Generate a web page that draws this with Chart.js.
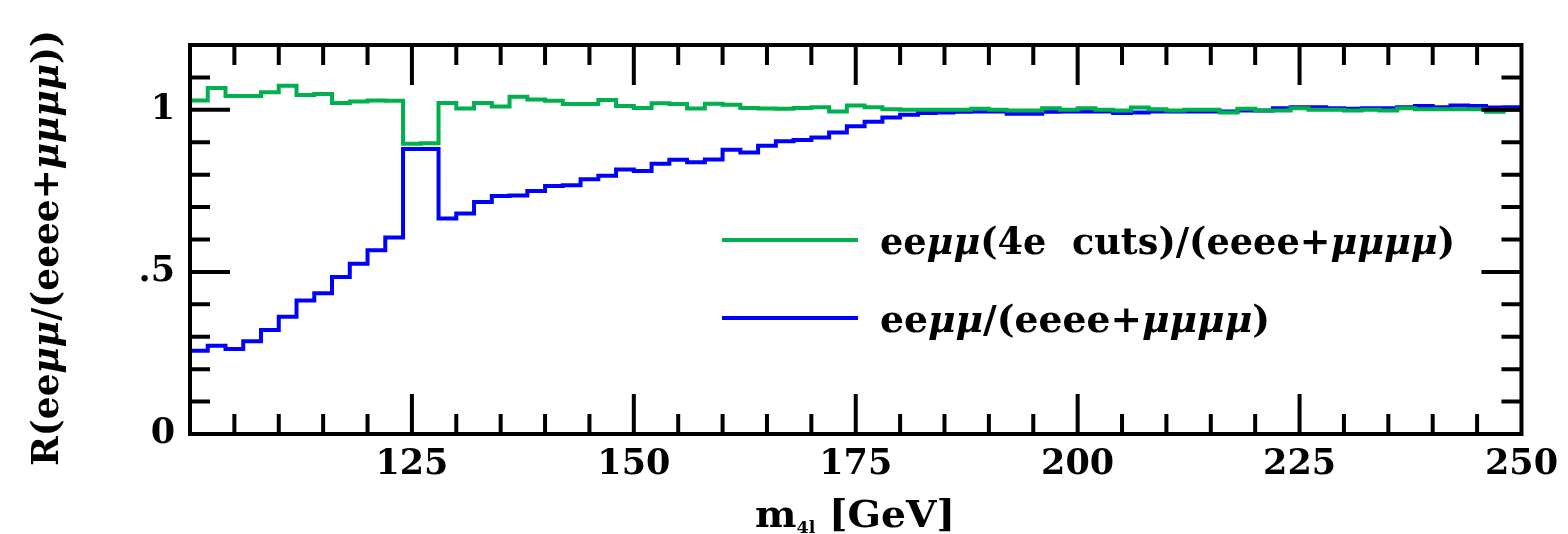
<!DOCTYPE html>
<html lang="en">

<head>
    <meta charset="UTF-8">
    <title>R(eeμμ/(eeee+μμμμ))</title>
    <style>
        html, body { margin: 0; padding: 0; background: #fff; }
        #wrap { width: 1568px; height: 534px; }
    </style>
</head>

<body>
    <div id="wrap"><canvas id="myChart"></canvas></div>

    <script src="https://cdn.jsdelivr.net/npm/chart.js"></script>
    <script>
        // lower edges of the 2 GeV bins in m4l
        const binEdges = [
            100, 102, 104, 106, 108, 110, 112, 114, 116, 118,
            120, 122, 124, 126, 128, 130, 132, 134, 136, 138,
            140, 142, 144, 146, 148, 150, 152, 154, 156, 158,
            160, 162, 164, 166, 168, 170, 172, 174, 176, 178,
            180, 182, 184, 186, 188, 190, 192, 194, 196, 198,
            200, 202, 204, 206, 208, 210, 212, 214, 216, 218,
            220, 222, 224, 226, 228, 230, 232, 234, 236, 238,
            240, 242, 244, 246, 248
        ];
        const lastEdge = 250;

        // eemumu (4e cuts) / (eeee + mumumumu)
        const ratioCuts = [
            1.029, 1.067, 1.043, 1.043, 1.054, 1.074, 1.046, 1.049, 1.021, 1.026,
            1.029, 1.028, 0.895, 0.897, 1.021, 1.004, 1.021, 1.010, 1.040, 1.032,
            1.028, 1.018, 1.018, 1.030, 1.012, 1.006, 1.020, 1.018, 1.004, 1.019,
            1.016, 1.006, 1.004, 1.003, 1.006, 1.008, 0.995, 1.013, 1.008, 1.002,
            1.000, 1.000, 1.000, 1.000, 1.003, 1.000, 0.998, 0.998, 1.005, 1.000,
            1.005, 1.000, 0.998, 1.007, 1.002, 0.998, 1.000, 1.000, 0.992, 1.003,
            0.998, 0.998, 1.005, 1.000, 1.000, 0.998, 1.000, 0.998, 1.005, 1.002,
            1.002, 1.002, 1.002, 0.994, 1.000
        ];

        // eemumu / (eeee + mumumumu)
        const ratioPlain = [
            0.257, 0.272, 0.262, 0.286, 0.321, 0.362, 0.412, 0.434, 0.484, 0.525,
            0.567, 0.606, 0.879, 0.879, 0.665, 0.680, 0.716, 0.734, 0.736, 0.750,
            0.765, 0.767, 0.786, 0.797, 0.816, 0.811, 0.834, 0.846, 0.838, 0.847,
            0.877, 0.868, 0.889, 0.903, 0.907, 0.915, 0.930, 0.949, 0.963, 0.976,
            0.985, 0.990, 0.992, 0.994, 0.995, 0.995, 0.988, 0.988, 0.994, 0.995,
            0.995, 0.995, 0.990, 0.992, 0.995, 0.995, 0.995, 0.995, 0.995, 0.998,
            0.998, 1.005, 1.008, 1.008, 1.005, 1.003, 1.005, 1.005, 1.008, 1.012,
            1.008, 1.013, 1.012, 1.007, 1.008
        ];

        // label pieces: [text, italic]
        const legendCuts = [['ee', false], ['μμ', true], ['(4e  cuts)/(eeee+', false], ['μμμμ', true], [')', false]];
        const legendPlain = [['ee', false], ['μμ', true], ['/(eeee+', false], ['μμμμ', true], [')', false]];
        const yTitle = [['R(ee', false], ['μμ', true], ['/(eeee+', false], ['μμμμ', true], ['))', false]];

        const GREEN = '#00b04f';
        const BLUE = '#0000ff';
        const FONT = '"DejaVu Serif", "Liberation Serif", serif';

        // histogram points: each bin holds its value until the next edge
        function toSteps(values) {
            const pts = binEdges.map((e, i) => ({ x: e, y: values[i] }));
            pts.push({ x: lastEdge, y: values[values.length - 1] });
            return pts;
        }

        // draws text pieces (upright/italic, optional size & shift) squeezed to a given width
        function drawPieces(ctx, pieces, x, y, width, size) {
            const fontOf = (p) => `${p[1] ? 'italic ' : ''}bold ${p[2] || size}px ${FONT}`;
            let total = 0;
            pieces.forEach(p => { ctx.font = fontOf(p); total += ctx.measureText(p[0]).width; });
            ctx.save();
            ctx.translate(x, y);
            ctx.scale(width / total, 1);
            ctx.textBaseline = 'alphabetic';
            ctx.textAlign = 'left';
            ctx.fillStyle = '#000';
            let cx = 0;
            pieces.forEach(p => {
                ctx.font = fontOf(p);
                ctx.fillText(p[0], cx, p[3] || 0);
                cx += ctx.measureText(p[0]).width;
            });
            ctx.restore();
        }

        const frameAndDecor = {
            id: 'frameAndDecor',
            afterDatasetsDraw(chart) {
                const { ctx, chartArea: a, scales: { x, y } } = chart;
                ctx.save();
                ctx.strokeStyle = '#000';
                ctx.lineWidth = 4;
                ctx.beginPath();
                // inward ticks on all four sides
                x.ticks.forEach(t => {
                    const px = x.getPixelForValue(t.value);
                    if (px <= a.left + 2 || px >= a.right - 2) return;
                    const len = t.value % 25 === 0 ? 40 : 20;
                    ctx.moveTo(px, a.bottom); ctx.lineTo(px, a.bottom - len);
                    ctx.moveTo(px, a.top); ctx.lineTo(px, a.top + len);
                });
                y.ticks.forEach(t => {
                    const py = y.getPixelForValue(t.value);
                    if (py <= a.top + 2 || py >= a.bottom - 2) return;
                    const major = Math.abs(t.value * 2 - Math.round(t.value * 2)) < 1e-6;
                    const len = major ? 40 : 20;
                    ctx.moveTo(a.left, py); ctx.lineTo(a.left + len, py);
                    ctx.moveTo(a.right, py); ctx.lineTo(a.right - len, py);
                });
                ctx.stroke();
                ctx.strokeRect(a.left, a.top, a.right - a.left, a.bottom - a.top);

                // legend inside the frame
                ctx.lineWidth = 4;
                [[GREEN, legendCuts, 240, 575], [BLUE, legendPlain, 318, 390]].forEach(([col, txt, ly, w]) => {
                    ctx.strokeStyle = col;
                    ctx.beginPath();
                    ctx.moveTo(722, ly); ctx.lineTo(858, ly);
                    ctx.stroke();
                    drawPieces(ctx, txt, 880, ly + 14, w, 38);
                });

                // axis titles
                drawPieces(ctx, [['m', false], ['4l', false, 17, 6], [' [GeV]', false]], 755, 527, 200, 38);
                ctx.translate(58, 248);
                ctx.rotate(-Math.PI / 2);
                drawPieces(ctx, yTitle, -218, 0, 436, 38);
                ctx.restore();
            }
        };

        const canvas = document.getElementById('myChart');

        const chart = new Chart(canvas, {
            type: 'line',
            data: {
                datasets: [
                    {
                        label: 'eeμμ(4e cuts)/(eeee+μμμμ)',
                        data: toSteps(ratioCuts),
                        borderColor: GREEN,
                        borderWidth: 4,
                        pointRadius: 0,
                        stepped: 'before',
                        fill: false
                    },
                    {
                        label: 'eeμμ/(eeee+μμμμ)',
                        data: toSteps(ratioPlain),
                        borderColor: BLUE,
                        borderWidth: 4,
                        pointRadius: 0,
                        stepped: 'before',
                        fill: false
                    }
                ]
            },
            options: {
                responsive: true,
                maintainAspectRatio: false,
                animation: false,
                layout: { padding: { left: 0, top: 45, right: 42, bottom: 0 } },
                plugins: {
                    legend: { display: false },
                    tooltip: { enabled: false }
                },
                scales: {
                    x: {
                        type: 'linear',
                        min: 100,
                        max: 250,
                        grid: { display: false, drawTicks: false },
                        border: { display: false },
                        afterFit: (s) => { s.height = 100; },
                        ticks: {
                            stepSize: 5,
                            autoSkip: false,
                            maxRotation: 0,
                            padding: 10,
                            color: '#000',
                            font: { family: FONT, weight: 'bold', size: 35 },
                            callback: (v) => (v % 25 === 0 && v !== 100 ? String(v) : '')
                        }
                    },
                    y: {
                        min: 0,
                        max: 1.2,
                        grid: { display: false, drawTicks: false },
                        border: { display: false },
                        afterFit: (s) => { s.width = 190; },
                        ticks: {
                            stepSize: 0.1,
                            autoSkip: false,
                            padding: 15,
                            color: '#000',
                            font: { family: FONT, weight: 'bold', size: 35 },
                            callback: (v) => {
                                if (Math.abs(v) < 1e-6) return '0';
                                if (Math.abs(v - 0.5) < 1e-6) return '.5';
                                if (Math.abs(v - 1) < 1e-6) return '1';
                                return '';
                            }
                        }
                    }
                }
            },
            plugins: [frameAndDecor]
        });
    </script>
</body>

</html>
